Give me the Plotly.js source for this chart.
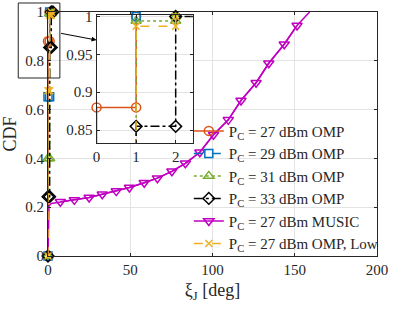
<!DOCTYPE html>
<html>
<head>
<meta charset="utf-8">
<script src="https://cdn.plot.ly/plotly-3.0.1.min.js"></script>
<style>html,body{margin:0;padding:0;background:#fff;}#chart{width:396px;height:310px;}</style>
</head>
<body>
<div id="chart"></div>
<script>
// ---- data ----
const seriesNames = [
  'P<sub>C</sub> = 27 dBm OMP',
  'P<sub>C</sub> = 29 dBm OMP',
  'P<sub>C</sub> = 31 dBm OMP',
  'P<sub>C</sub> = 33 dBm OMP',
  'P<sub>C</sub> = 27 dBm MUSIC',
  'P<sub>C</sub> = 27 dBm OMP, Low'
];
const omp27X = [0, 0, 1, 1];
const omp27Y = [0, 0.88, 0.88, 1];
const omp29X = [0, 0, 1, 1];
const omp29Y = [0, 0.653, 0.653, 1];
const omp31X = [0, 0, 1, 1, 2, 2];
const omp31Y = [0, 0.40, 0.40, 0.994, 0.994, 1];
const omp33X = [0, 0, 1, 1, 2, 2, 3];
const omp33Y = [0, 0.243, 0.243, 0.855, 0.855, 1, 1];
const low27X = [0, 0, 1, 1, 2, 2];
const low27Y = [0, 0.677, 0.677, 0.987, 0.987, 1];
const musicX = [0, 0.6, 2, 7.5, 16, 25, 33, 41.5, 49.5, 58.5, 66.5, 75.3, 83.5, 92.3, 100.6, 109.6, 117.3, 126.5, 134.2, 143.6, 151.4, 159];
const musicY = [0, 0.205, 0.215, 0.222, 0.230, 0.240, 0.253, 0.266, 0.281, 0.300, 0.319, 0.347, 0.380, 0.425, 0.497, 0.558, 0.637, 0.71, 0.79, 0.868, 0.945, 1];
const musicMarkerFrom = 3, musicMarkerTo = 21; // indices carrying markers
const xTicks = [0, 50, 100, 150, 200];
const yTicks = [0, 0.2, 0.4, 0.6, 0.8, 1];
const insetXTicks = [0, 1, 2];
const insetYTicks = [0.85, 0.9, 0.95, 1];

// ---- styles ----
const FONT = "'Liberation Serif', 'Times New Roman', serif";
const TXT = '#262626';
const styles = [
  {color: '#D95319', dash: 'solid', symbol: 'circle-open', size: 9},
  {color: '#0072BD', dash: 'dash', symbol: 'square-open', size: 8},
  {color: '#77AC30', dash: 'dot', symbol: 'triangle-up-open', size: 9},
  {color: '#000000', dash: 'dashdot', symbol: 'diamond-open', size: 9},
  {color: '#C000C0', dash: 'solid', symbol: 'triangle-down-open', size: 9},
  {color: '#EDB120', dash: 'dash', symbol: 'x-thin-open', size: 7}
];
const ompData = [[omp27X, omp27Y, 0], [omp29X, omp29Y, 1], [omp31X, omp31Y, 2], [omp33X, omp33Y, 3]];

function mk(x, y, i, xa, ya, legend, mode) {
  const s = styles[i];
  return {
    x: x, y: y, type: 'scatter', mode: mode || 'lines+markers',
    name: seriesNames[i], showlegend: legend, legendgroup: 'g' + i,
    xaxis: xa, yaxis: ya,
    cliponaxis: false,
    line: {color: s.color, width: 1.5, dash: s.dash},
    marker: {symbol: s.symbol, size: s.size, color: s.color, line: {color: s.color, width: 1.5}}
  };
}

const traces = [];
ompData.forEach(d => traces.push(mk(d[0], d[1], d[2], 'x', 'y', true)));
traces.push(mk(musicX, musicY, 4, 'x', 'y', false, 'lines'));
traces.push(mk(musicX.slice(musicMarkerFrom, musicMarkerTo), musicY.slice(musicMarkerFrom, musicMarkerTo), 4, 'x', 'y', true));
traces.push(mk(low27X, low27Y, 5, 'x', 'y', true));
// inset
ompData.forEach(d => traces.push(mk(d[0], d[1], d[2], 'x2', 'y2', false)));
traces.push(mk(low27X, low27Y, 5, 'x2', 'y2', false));

const axBase = {
  showline: true, linecolor: TXT, linewidth: 1, mirror: 'ticks',
  ticks: 'inside', ticklen: 3, tickcolor: TXT, tickwidth: 1,
  showgrid: true, gridcolor: '#e3e3e3', gridwidth: 1, zeroline: false,
  tickfont: {family: FONT, size: 15, color: TXT}
};

const layout = {
  width: 396, height: 310,
  margin: {l: 48, r: 16, t: 12, b: 54},
  paper_bgcolor: '#ffffff', plot_bgcolor: '#ffffff',
  font: {family: FONT, color: TXT, size: 15},
  showlegend: true,
  legend: {
    x: 0.428, y: -0.015, xanchor: 'left', yanchor: 'bottom',
    bgcolor: 'rgba(0,0,0,0)', borderwidth: 0,
    font: {family: FONT, size: 15, color: TXT},
    traceorder: 'normal', tracegroupgap: 2
  },
  xaxis: Object.assign({}, axBase, {
    range: [0, 200], tickvals: xTicks, domain: [0, 1], anchor: 'y',
    title: {text: 'ξ<sub>J</sub> [deg]', font: {family: FONT, size: 18, color: TXT}, standoff: 6}
  }),
  yaxis: Object.assign({}, axBase, {
    range: [0, 1], tickvals: yTicks, domain: [0, 1], anchor: 'x',
    title: {text: 'CDF', font: {family: FONT, size: 18, color: TXT}, standoff: 6}
  }),
  xaxis2: Object.assign({}, axBase, {
    range: [0, 2.43], tickvals: insetXTicks, domain: [0.1476, 0.4398], anchor: 'y2'
  }),
  yaxis2: Object.assign({}, axBase, {
    range: [0.833, 1.002], tickvals: insetYTicks, domain: [0.463, 0.988], anchor: 'x2'
  }),
  shapes: [{
    type: 'rect', xref: 'paper', yref: 'paper',
    x0: -0.0904, x1: 0.0361, y0: 0.7295, y1: 1.0369,
    line: {color: TXT, width: 1}, fillcolor: 'rgba(0,0,0,0)', layer: 'above'
  }],
  annotations: [{
    xref: 'paper', yref: 'paper', x: 0.1476, y: 0.885,
    text: '', showarrow: true, arrowhead: 2, arrowsize: 1, arrowwidth: 1,
    arrowcolor: '#000', ax: -37, ay: -7, standoff: 0
  }]
};

Plotly.newPlot('chart', traces, layout, {displayModeBar: false, staticPlot: true});
</script>
</body>
</html>
